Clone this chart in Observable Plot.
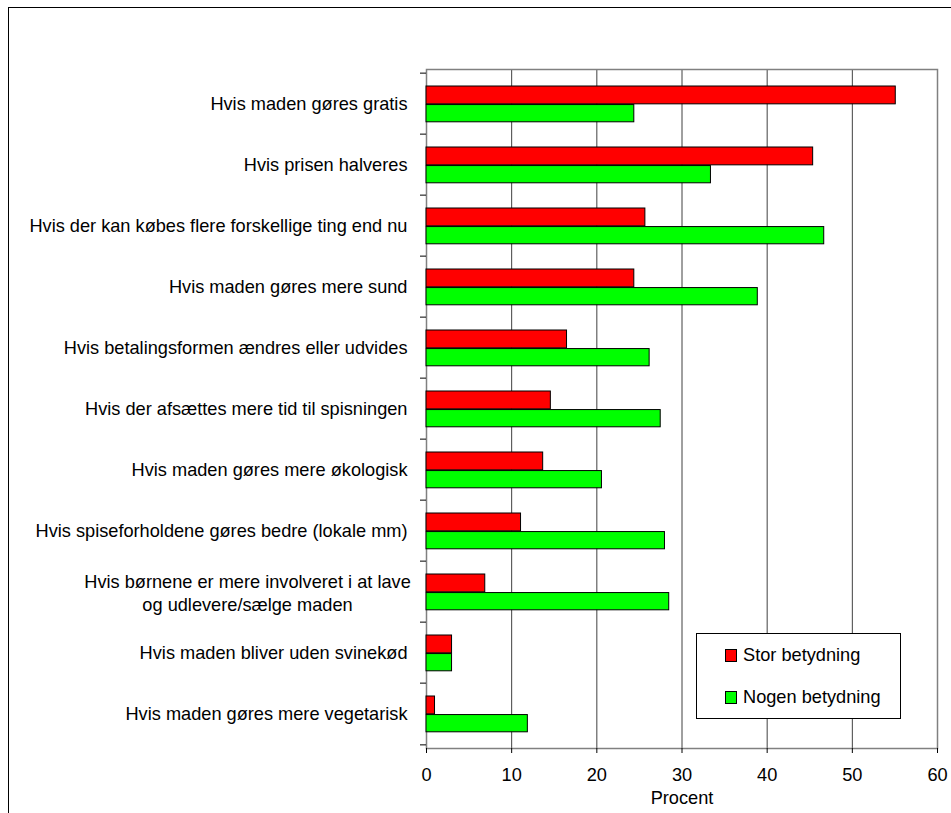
<!DOCTYPE html>
<html>
<head>
<meta charset="utf-8">
<script src="https://cdn.jsdelivr.net/npm/d3@7"></script>
<script src="https://cdn.jsdelivr.net/npm/@observablehq/plot@0.6"></script>
<style>
  html, body { margin: 0; padding: 0; background: #fff; }
  #wrap { position: relative; width: 951px; height: 813px; overflow: hidden; font-family: "Liberation Sans", Arial, sans-serif; }
  #outer { position: absolute; left: 8px; top: 7px; width: 1000px; height: 900px; border: 1px solid #000; box-sizing: border-box; }
  #chart { position: absolute; left: 0; top: 0; }
  #chart svg { display: block; }
  #legend { position: absolute; left: 696px; top: 633px; width: 205px; height: 86px; border: 1px solid #000; box-sizing: border-box; background: #fff; font-size: 18.2px; color: #000; }
  .item { position: absolute; left: 28px; height: 22px; display: flex; align-items: center; }
  .sw { width: 10px; height: 11px; border: 1px solid #000; margin-right: 6px; }
</style>
</head>
<body>
<div id="wrap">
  <div id="outer"></div>
  <div id="chart"></div>
  <div id="legend"></div>
</div>
<script>
const categories = [
  "Hvis maden gøres gratis",
  "Hvis prisen halveres",
  "Hvis der kan købes flere forskellige ting end nu",
  "Hvis maden gøres mere sund",
  "Hvis betalingsformen ændres eller udvides",
  "Hvis der afsættes mere tid til spisningen",
  "Hvis maden gøres mere økologisk",
  "Hvis spiseforholdene gøres bedre (lokale mm)",
  "Hvis børnene er mere involveret i at lave\nog udlevere/sælge maden",
  "Hvis maden bliver uden svinekød",
  "Hvis maden gøres mere vegetarisk"
];
const storBetydning = [55.1, 45.4, 25.7, 24.4, 16.5, 14.6, 13.7, 11.1, 6.9, 3.0, 1.0];
const nogenBetydning = [24.4, 33.4, 46.7, 38.9, 26.2, 27.5, 20.6, 28.0, 28.5, 3.0, 11.9];
const seriesNames = ["Stor betydning", "Nogen betydning"];
const seriesColors = ["#ff0000", "#00ff00"];
const xTicks = [0, 10, 20, 30, 40, 50, 60];
const xLabel = "Procent";

const W = 951, H = 813, mL = 426, mR = 14, mT = 69, mB = 65;
const bw = (H - mT - mB) / categories.length;

const storData = categories.map((c, i) => ({cat: c, v: storBetydning[i]}));
const nogenData = categories.map((c, i) => ({cat: c, v: nogenBetydning[i]}));
const multi = categories.filter(c => c.includes("\n"));

const plot = Plot.plot({
  width: W, height: H,
  marginLeft: mL, marginRight: mR, marginTop: mT, marginBottom: mB,
  style: {fontFamily: "'Liberation Sans', Arial, sans-serif", fontSize: "18.2px", color: "#000", background: "transparent", overflow: "visible"},
  x: {domain: [0, 60]},
  y: {domain: categories, padding: 0},
  marks: [
    Plot.gridX({ticks: xTicks, stroke: "#000", strokeOpacity: 0.75, strokeWidth: 1}),
    Plot.frame({stroke: "#808080", strokeWidth: 1.5}),
    Plot.barX(storData, {x: "v", y: "cat", fill: seriesColors[0], stroke: "#000", strokeWidth: 1, insetTop: 13, insetBottom: bw / 2 - 0.7}),
    Plot.barX(nogenData, {x: "v", y: "cat", fill: seriesColors[1], stroke: "#000", strokeWidth: 1, insetTop: bw / 2 + 0.7, insetBottom: 12.2}),
    Plot.axisX({ticks: xTicks, tickSize: 5, tickPadding: 15, label: null, line: true, stroke: "#000"}),
    Plot.axisY({tickSize: 0, tickPadding: 19, label: null, line: true, tickFormat: d => d.includes("\n") ? "" : d}),
    Plot.axisY({ticks: categories, tickSize: 6, tickFormat: () => "", label: null, dy: -bw / 2}),
    Plot.axisY({ticks: categories.slice(-1), tickSize: 6, tickFormat: () => "", label: null, dy: bw / 2}),
    Plot.text(multi, {y: d => d, text: d => d, frameAnchor: "left", dx: -179, textAnchor: "middle", lineHeight: 1.3, fill: "#000"}),
    Plot.text([xLabel], {text: d => d, frameAnchor: "bottom", dy: 55, fill: "#000"})
  ]
});
document.getElementById("chart").appendChild(plot);

const legend = document.getElementById("legend");
seriesNames.forEach((name, i) => {
  const item = document.createElement("div");
  item.className = "item";
  item.style.top = (10 + i * 42) + "px";
  const sw = document.createElement("div");
  sw.className = "sw";
  sw.style.background = seriesColors[i];
  const t = document.createElement("span");
  t.textContent = name;
  item.appendChild(sw);
  item.appendChild(t);
  legend.appendChild(item);
});
</script>
</body>
</html>
